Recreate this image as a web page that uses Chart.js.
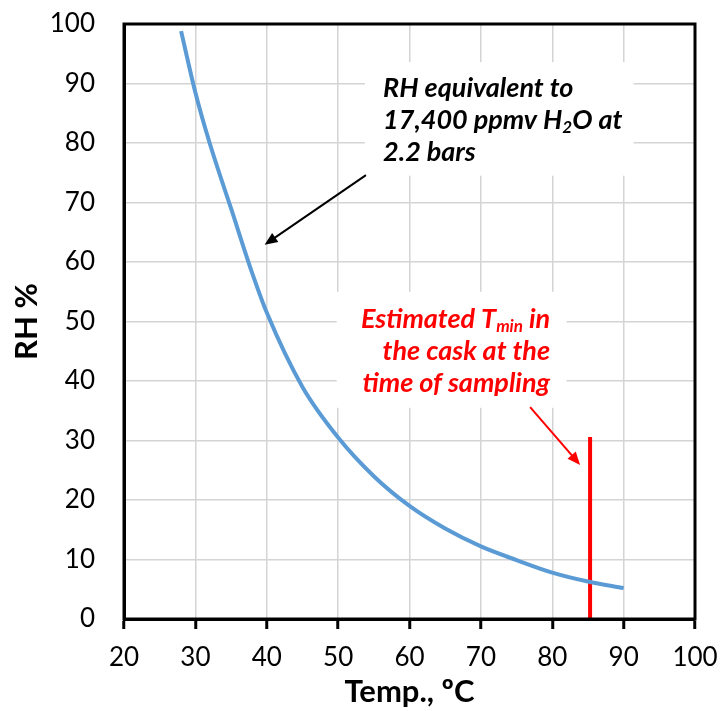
<!DOCTYPE html>
<html>
<head>
<meta charset="utf-8">
<script src="https://cdn.jsdelivr.net/npm/chart.js@4"></script>
<style>
  html, body { margin: 0; padding: 0; background: #fff; }
  #wrap { width: 720px; height: 711px; }
</style>
</head>
<body>
<div id="wrap"><canvas id="rhChart" width="720" height="711"></canvas></div>
<script>
// curve: RH % vs temperature
const temps = [28, 30, 32, 35, 38, 40, 45, 50, 55, 60, 65, 70, 75, 80, 85, 90];
const rhValues = [98.8, 88.5, 80, 69, 58, 51.5, 39, 30.5, 24, 19, 15.2, 12.2, 9.9, 7.8, 6.3, 5.2];

// estimated Tmin marker
const tminX = [85.3, 85.3];
const tminY = [0, 30.6];

const xTicks = [20, 30, 40, 50, 60, 70, 80, 90, 100];
const yTicks = [0, 10, 20, 30, 40, 50, 60, 70, 80, 90, 100];

const FONT = "Lato, 'Open Sans', 'Liberation Sans', sans-serif";

// text boxes and arrows, anchored in data coords
const notes = [
  {
    box: [53.75, 93.6, 91.4, 74.5], color: '#000', align: 'left', at: [56.3, 89.2],
    lines: [['RH equivalent to'], ['17,400 ppmv H', ['2'], 'O at'], ['2.2 bars']],
    arrow: [53.9, 74.6, 39.7, 62.9]
  },
  {
    box: [49.8, 55.0, 82.0, 35.5], color: '#ff0000', align: 'right', at: [79.7, 50.4],
    lines: [['Estimated T', ['min'], ' in'], ['the cask at the'], ['time of sampling']],
    arrow: [76.9, 35.6, 83.9, 25.9]
  }
];

function drawArrow(ctx, x1, y1, x2, y2, color) {
  const ang = Math.atan2(y2 - y1, x2 - x1);
  const head = 14;
  ctx.save();
  ctx.strokeStyle = color;
  ctx.fillStyle = color;
  ctx.lineWidth = 2;
  ctx.beginPath();
  ctx.moveTo(x1, y1);
  ctx.lineTo(x2 - Math.cos(ang) * head * 0.8, y2 - Math.sin(ang) * head * 0.8);
  ctx.stroke();
  ctx.beginPath();
  ctx.moveTo(x2, y2);
  ctx.lineTo(x2 - head * Math.cos(ang - 0.4), y2 - head * Math.sin(ang - 0.4));
  ctx.lineTo(x2 - head * Math.cos(ang + 0.4), y2 - head * Math.sin(ang + 0.4));
  ctx.closePath();
  ctx.fill();
  ctx.restore();
}

// measure a line made of normal strings and [subscript] parts
function lineParts(ctx, parts, big, small) {
  return parts.map(p => {
    const sub = Array.isArray(p);
    const text = sub ? p[0] : p;
    ctx.font = `italic bold ${sub ? small : big}px ${FONT}`;
    return { text, sub, w: ctx.measureText(text).width };
  });
}

const notesPlugin = {
  id: 'notes',
  beforeDatasetsDraw(chart) {
    const { ctx, scales: { x, y } } = chart;
    ctx.save();
    ctx.fillStyle = '#fff';
    notes.forEach(n => {
      const [x1, y1, x2, y2] = n.box;
      const px1 = x.getPixelForValue(x1), py1 = y.getPixelForValue(y1);
      ctx.fillRect(px1, py1, x.getPixelForValue(x2) - px1, y.getPixelForValue(y2) - py1);
    });
    ctx.restore();
  },
  afterDatasetsDraw(chart) {
    const { ctx, scales: { x, y }, chartArea } = chart;
    const big = 27, small = 17, lineH = 32;
    notes.forEach(n => {
      const ax = x.getPixelForValue(n.at[0]);
      let ay = y.getPixelForValue(n.at[1]);
      ctx.save();
      ctx.fillStyle = n.color;
      ctx.textBaseline = 'middle';
      ctx.textAlign = 'left';
      n.lines.forEach(parts => {
        const ps = lineParts(ctx, parts, big, small);
        const total = ps.reduce((s, p) => s + p.w, 0);
        let cx = n.align === 'left' ? ax : ax - total;
        ps.forEach(p => {
          ctx.font = `italic bold ${p.sub ? small : big}px ${FONT}`;
          ctx.fillText(p.text, cx, p.sub ? ay + 7 : ay);
          cx += p.w;
        });
        ay += lineH;
      });
      ctx.restore();
      const [a1, b1, a2, b2] = n.arrow;
      drawArrow(ctx, x.getPixelForValue(a1), y.getPixelForValue(b1),
        x.getPixelForValue(a2), y.getPixelForValue(b2), n.color);
    });
    // frame round the plot
    ctx.save();
    ctx.strokeStyle = '#000';
    ctx.lineWidth = 3;
    ctx.strokeRect(chartArea.left, chartArea.top, chartArea.right - chartArea.left, chartArea.bottom - chartArea.top);
    ctx.restore();
  }
};

const ctx = document.getElementById('rhChart').getContext('2d');
new Chart(ctx, {
  type: 'line',
  data: {
    datasets: [
      {
        data: temps.map((t, i) => ({ x: t, y: rhValues[i] })),
        borderColor: '#5b9bd5',
        borderWidth: 4,
        pointRadius: 0,
        cubicInterpolationMode: 'monotone',
        fill: false
      },
      {
        data: tminX.map((t, i) => ({ x: t, y: tminY[i] })),
        borderColor: '#ff0000',
        borderWidth: 4,
        pointRadius: 0,
        fill: false
      }
    ]
  },
  options: {
    responsive: false,
    animation: false,
    layout: { padding: { top: 24, right: 25, bottom: 0, left: 0 } },
    plugins: {
      legend: { display: false },
      tooltip: { enabled: false }
    },
    scales: {
      x: {
        type: 'linear',
        min: 20,
        max: 100,
        afterBuildTicks: s => { s.ticks = xTicks.map(v => ({ value: v })); },
        afterFit: s => { s.height = 92; s.paddingLeft = 0; s.paddingRight = 0; },
        grid: { color: '#d4d4d4', lineWidth: 1.5, tickLength: 10, tickColor: '#000', tickWidth: 3 },
        border: { color: '#000', width: 3 },
        ticks: { color: '#000', padding: 13, maxRotation: 0, font: { family: FONT, size: 26 } },
        title: { display: true, text: 'Temp., ºC', color: '#000', padding: { top: 0, bottom: 0 }, font: { family: FONT, size: 31, weight: 'bold' } }
      },
      y: {
        type: 'linear',
        min: 0,
        max: 100,
        afterBuildTicks: s => { s.ticks = yTicks.map(v => ({ value: v })); },
        afterFit: s => { s.width = 124; s.paddingTop = 0; s.paddingBottom = 0; },
        grid: { color: '#d4d4d4', lineWidth: 1.5, drawTicks: false },
        border: { color: '#000', width: 3 },
        ticks: { color: '#000', padding: 29, font: { family: FONT, size: 26 } },
        title: { display: true, text: 'RH %', color: '#000', padding: { top: 8, bottom: 0 }, font: { family: FONT, size: 31, weight: 'bold' } }
      }
    }
  },
  plugins: [notesPlugin]
});
</script>
</body>
</html>
